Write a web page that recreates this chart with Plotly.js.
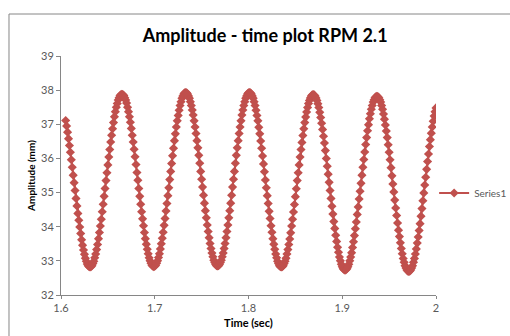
<!DOCTYPE html>
<html>
<head>
<meta charset="utf-8">
<script src="https://cdn.plot.ly/plotly-3.0.1.min.js"></script>
<style>html,body{margin:0;padding:0;background:#fff;}#chart{width:510px;height:336px;}</style>
</head>
<body>
<div id="chart"></div>
<script>
// Sampling of the time axis (seconds)
var tStart = 1.605;
var tStep = 0.001;

// Amplitude readings (mm), one per sample
var amplitude = [
37.11,36.95,36.77,36.58,36.38,36.18,35.96,35.74,35.51,35.29,35.06,34.83,34.61,34.39,34.19,33.99,33.80,33.62,33.46,33.32,33.19,33.08,32.99,32.91,32.86,32.83,
32.82,32.83,32.86,32.92,32.99,33.09,33.20,33.33,33.48,33.65,33.83,34.02,34.22,34.44,34.66,34.89,35.12,35.35,35.58,35.81,36.04,36.26,36.48,36.68,36.87,37.05,37.22,37.37,37.50,37.61,37.71,37.78,37.84,37.87,
37.88,37.87,37.84,37.78,37.71,37.62,37.50,37.37,37.22,37.06,36.88,36.68,36.48,36.27,36.05,35.82,35.59,35.36,35.12,34.89,34.66,34.44,34.23,34.03,33.83,33.65,33.49,33.34,33.21,33.09,33.00,32.93,32.87,32.84,
32.83,32.84,32.87,32.93,33.00,33.10,33.21,33.35,33.50,33.66,33.84,34.04,34.24,34.46,34.68,34.91,35.14,35.38,35.62,35.85,36.08,36.30,36.52,36.72,36.92,37.10,37.26,37.41,37.55,37.66,37.76,37.83,37.89,37.92,
37.93,37.92,37.89,37.83,37.76,37.66,37.55,37.42,37.27,37.10,36.92,36.73,36.52,36.31,36.09,35.86,35.62,35.39,35.16,34.92,34.69,34.47,34.26,34.05,33.86,33.68,33.51,33.36,33.23,33.12,33.02,32.95,32.89,32.86,
32.85,32.86,32.89,32.95,33.02,33.12,33.23,33.36,33.51,33.68,33.86,34.05,34.26,34.47,34.69,34.92,35.16,35.39,35.62,35.86,36.09,36.31,36.52,36.73,36.92,37.10,37.27,37.42,37.55,37.66,37.76,37.83,37.89,37.92,
37.93,37.92,37.89,37.83,37.76,37.66,37.55,37.41,37.26,37.10,36.91,36.72,36.51,36.30,36.07,35.84,35.61,35.37,35.14,34.91,34.68,34.45,34.24,34.03,33.84,33.65,33.49,33.34,33.20,33.09,32.99,32.92,32.86,32.83,
32.82,32.83,32.86,32.92,32.99,33.08,33.20,33.33,33.48,33.64,33.82,34.02,34.22,34.43,34.65,34.88,35.11,35.35,35.58,35.81,36.04,36.26,36.47,36.67,36.87,37.05,37.21,37.36,37.49,37.61,37.70,37.77,37.83,37.86,
37.87,37.86,37.83,37.77,37.70,37.60,37.49,37.35,37.20,37.03,36.85,36.65,36.45,36.23,36.00,35.77,35.54,35.30,35.06,34.83,34.60,34.37,34.15,33.95,33.75,33.57,33.40,33.25,33.11,33.00,32.90,32.83,32.77,32.74,
32.73,32.74,32.77,32.83,32.90,33.00,33.11,33.24,33.39,33.56,33.74,33.94,34.14,34.36,34.58,34.81,35.04,35.27,35.51,35.74,35.97,36.19,36.41,36.61,36.81,36.99,37.16,37.31,37.44,37.55,37.65,37.72,37.78,37.81,
37.82,37.81,37.78,37.72,37.65,37.55,37.44,37.30,37.15,36.98,36.80,36.61,36.40,36.18,35.96,35.73,35.49,35.25,35.02,34.78,34.55,34.33,34.11,33.90,33.71,33.53,33.36,33.21,33.07,32.96,32.86,32.79,32.73,32.70,
32.69,32.70,32.73,32.79,32.86,32.96,33.07,33.20,33.35,33.52,33.70,33.89,34.09,34.31,34.53,34.76,34.99,35.22,35.45,35.68,35.91,36.13,36.35,36.55,36.74,36.92,37.09,37.24,37.37,37.48
];

var seriesName = 'Series1';
var chartTitle = 'Amplitude - time plot RPM 2.1';
var xTitle = 'Time (sec)';
var yTitle = 'Amplitude (mm)';

var red = '#C0504D';
var axisColor = '#868686';
var fontFam = 'Lato, "Liberation Sans", sans-serif';
var tickFont = {family: fontFam, size: 11, color: '#595959'};

var trace = {
  type: 'scatter',
  mode: 'lines+markers',
  name: seriesName,
  x0: tStart,
  dx: tStep,
  y: amplitude,
  line: {color: red, width: 2},
  marker: {symbol: 'diamond', size: 7, color: red, line: {width: 0}},
  showlegend: true
};

var layout = {
  width: 510,
  height: 336,
  margin: {l: 61, r: 74, t: 56, b: 41, autoexpand: false},
  paper_bgcolor: '#ffffff',
  plot_bgcolor: '#ffffff',
  title: {
    text: '<b>' + chartTitle + '</b>',
    font: {family: fontFam, size: 18, color: '#000000'},
    x: 0.52, xanchor: 'center', xref: 'container',
    y: 0.895, yanchor: 'middle', yref: 'container'
  },
  xaxis: {
    range: [1.6, 2],
    dtick: 0.1,
    tick0: 1.6,
    showgrid: false,
    zeroline: false,
    showline: true,
    linecolor: axisColor,
    linewidth: 1,
    ticks: 'outside',
    ticklen: 3,
    tickcolor: axisColor,
    tickfont: tickFont,
    automargin: false,
    title: {text: '<b>' + xTitle + '</b>', font: {family: fontFam, size: 11, color: '#000000'}, standoff: 6}
  },
  yaxis: {
    range: [32, 39],
    dtick: 1,
    showgrid: false,
    zeroline: false,
    showline: true,
    linecolor: axisColor,
    linewidth: 1,
    ticks: 'outside',
    ticklen: 4,
    tickcolor: axisColor,
    tickfont: tickFont,
    automargin: false,
    title: {text: '<b>' + yTitle + '</b>', font: {family: fontFam, size: 10, color: '#000000'}, standoff: 3}
  },
  legend: {
    x: 0.995, xanchor: 'left',
    y: 0.427, yanchor: 'middle',
    font: {family: fontFam, size: 10, color: '#595959'},
    bgcolor: 'rgba(0,0,0,0)',
    itemwidth: 30
  },
  shapes: [{
    type: 'rect', xref: 'paper', yref: 'paper',
    x0: -0.1387, x1: 1.25, y0: -0.25, y1: 1.1757,
    line: {color: axisColor, width: 1}, fillcolor: 'rgba(0,0,0,0)', layer: 'below'
  }]
};

Plotly.newPlot('chart', [trace], layout, {staticPlot: true, displayModeBar: false});
</script>
</body>
</html>
